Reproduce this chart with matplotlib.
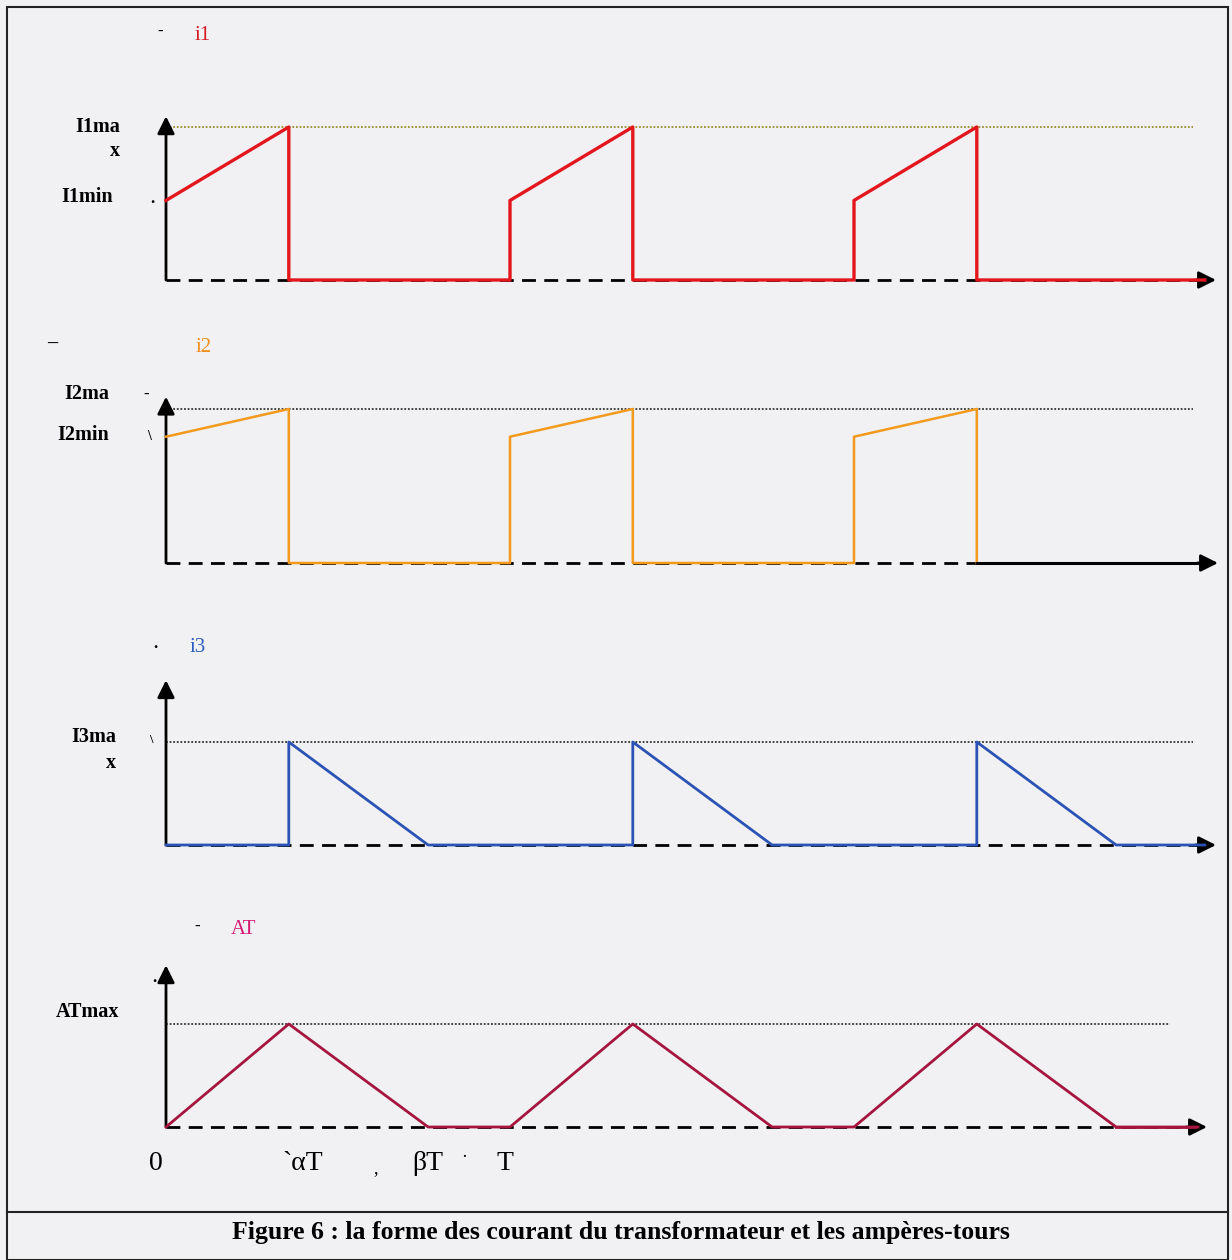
import matplotlib
matplotlib.use("Agg")
import matplotlib.pyplot as plt
from matplotlib.patches import Rectangle

# --- data (time in units of T, values relative to each max) ---
i1_t = [0, 0.357, 0.357, 1.0, 1.0, 1.357, 1.357, 2.0, 2.0, 2.357, 2.357, 3.02]
i1_v = [0.52, 1, 0, 0, 0.52, 1, 0, 0, 0.52, 1, 0, 0]

i2_t = [0, 0.357, 0.357, 1.0, 1.0, 1.357, 1.357, 2.0, 2.0, 2.357, 2.357]
i2_v = [0.82, 1, 0, 0, 0.82, 1, 0, 0, 0.82, 1, 0]

i3_t = [0, 0.357, 0.357, 0.762, 1.357, 1.357, 1.762, 2.357, 2.357, 2.762, 3.02]
i3_v = [0, 0, 1, 0, 0, 1, 0, 0, 1, 0, 0]

at_t = [0, 0.357, 0.762, 1.0, 1.357, 1.762, 2.0, 2.357, 2.762, 3.0]
at_v = [0, 1, 0, 0, 1, 0, 0, 1, 0, 0]

time_ticks = [0, 0.357, 0.762, 1.0]
time_labels = ["0", "`\u03b1T", "\u03b2T", "T"]

caption = "Figure 6 : la forme des courant du transformateur et les amp\u00e8res-tours"

W, H = 1232, 1260
X0, TPX = 166, 344          # pixel of t=0, pixels per period
SERIF = "Liberation Serif"
BG = "#f1f1f3"

fig = plt.figure(figsize=(W / 100, H / 100), dpi=100)
fig.patch.set_facecolor(BG)


def make_axes(band_top, band_bot, base_px, max_px):
    ax = fig.add_axes([0, 1 - band_bot / H, 1, (band_bot - band_top) / H])
    ax.set_xlim(-X0 / TPX, (W - X0) / TPX)
    sc = base_px - max_px
    ax.set_ylim((base_px - band_bot) / sc, (base_px - band_top) / sc)
    ax.axis("off")
    ax.patch.set_alpha(0)
    return ax


def px_x(p):
    return (p - X0) / TPX


def axes_frame(ax, ytop, xend, dot_end, dot_col="#333333"):
    # dashed baseline + arrow head
    ax.plot([0, xend - 0.05], [0, 0], color="black", lw=2.0,
            dashes=(5, 3), solid_capstyle="butt", zorder=2)
    ax.annotate("", xy=(xend, 0), xytext=(xend - 0.06, 0),
                arrowprops=dict(arrowstyle="-|>", color="black", lw=2,
                                mutation_scale=26, shrinkA=0, shrinkB=0))
    # vertical axis
    ax.annotate("", xy=(0, ytop), xytext=(0, 0),
                arrowprops=dict(arrowstyle="-|>", color="black", lw=2,
                                mutation_scale=26, shrinkA=0, shrinkB=0))
    # dotted max level
    ax.plot([0, dot_end], [1, 1], color=dot_col, lw=1.3, ls=(0, (1, 1)), zorder=1)


def lab(ax, x, y, s, **kw):
    kw.setdefault("family", SERIF)
    kw.setdefault("fontsize", 14.5)
    kw.setdefault("fontweight", "bold")
    ax.text(px_x(x), y, s, **kw)


# ---- panel 1 : i1 ----
ax1 = make_axes(0, 310, 280, 127)
axes_frame(ax1, 1.07, px_x(1216), px_x(1193), dot_col="#9a8c2c")
ax1.plot(i1_t, i1_v, color="#e3161d", lw=2.4, zorder=3)
lab(ax1, 120, 1.0, "I1ma", ha="right", va="center")
lab(ax1, 120, 0.84, "x", ha="right", va="center")
lab(ax1, 113, 0.54, "I1min", ha="right", va="center")
lab(ax1, 152, 0.53, ".", ha="center", va="center", fontsize=12)
lab(ax1, 195, 1.6, "i1", ha="left", va="center", color="#d41a22",
    fontweight="normal", fontsize=15)
lab(ax1, 160, 1.62, "-", ha="center", va="center", fontsize=12)

# ---- panel 2 : i2 ----
ax2 = make_axes(310, 600, 563, 409)
axes_frame(ax2, 1.08, px_x(1218), px_x(1193))
ax2.plot(i2_t, i2_v, color="#f39a1c", lw=1.8, zorder=3)
ax2.plot([i2_t[-1], px_x(1200)], [0, 0], color="black", lw=2.2, zorder=3)
lab(ax2, 109, 1.1, "I2ma", ha="right", va="center")
lab(ax2, 109, 0.83, "I2min", ha="right", va="center")
lab(ax2, 146, 1.09, "-", ha="center", va="center", fontsize=12)
lab(ax2, 149, 0.82, "\\", ha="center", va="center", fontsize=10)
lab(ax2, 196, 1.4, "i2", ha="left", va="center", color="#ee8f1a",
    fontweight="normal", fontsize=15)
lab(ax2, 52, 1.42, "\u2013", ha="center", va="center")

# ---- panel 3 : i3 ----
ax3 = make_axes(600, 880, 845, 742)
axes_frame(ax3, 1.6, px_x(1216), px_x(1193))
ax3.plot(i3_t, i3_v, color="#2a53b5", lw=2.0, zorder=3)
lab(ax3, 116, 1.05, "I3ma", ha="right", va="center")
lab(ax3, 116, 0.8, "x", ha="right", va="center")
lab(ax3, 151, 1.02, "\\", ha="center", va="center", fontsize=9)
lab(ax3, 190, 1.92, "i3", ha="left", va="center", color="#2c5cc0",
    fontweight="normal", fontsize=15)
lab(ax3, 155, 1.95, ".", ha="center", va="center", fontsize=12)

# ---- panel 4 : AT ----
ax4 = make_axes(880, 1200, 1127, 1024)
axes_frame(ax4, 1.57, px_x(1207), px_x(1170))
ax4.plot(at_t, at_v, color="#a5153f", lw=2.0, zorder=3)
ax4.plot([at_t[-2], px_x(1195)], [0, 0], color="#a5153f", lw=2.0, zorder=3)
lab(ax4, 119, 1.12, "ATmax", ha="right", va="center")
lab(ax4, 154, 1.45, ".", ha="center", va="center", fontsize=12)
lab(ax4, 231, 1.92, "AT", ha="left", va="center", color="#d41c74",
    fontweight="normal", fontsize=15)
lab(ax4, 197, 1.94, "-", ha="center", va="center", fontsize=12)

# time labels under the last panel
offsets = [-0.03, 0.04, 0.0, -0.015]
for t, s, off in zip(time_ticks, time_labels, offsets):
    ax4.text(t + off, -0.35, s, family=SERIF, fontsize=20,
             ha="center", va="center")
ax4.text(px_x(376), -0.4, ",", family=SERIF, fontsize=13, ha="center", va="center")
ax4.text(px_x(464), -0.3, "\u00b7", family=SERIF, fontsize=13, ha="center", va="center")

# frame and caption
fig.add_artist(Rectangle((7 / W, 0), (1228 - 7) / W, 1 - 7 / H,
                         transform=fig.transFigure, fill=False,
                         ec="#222222", lw=1.5))
fig.add_artist(plt.Line2D([7 / W, 1228 / W], [1 - 1212 / H, 1 - 1212 / H],
                          transform=fig.transFigure, color="#222222", lw=1.5))
fig.text(621 / W, 1 - 1232 / H, caption, family=SERIF, fontsize=18.5,
         fontweight="bold", ha="center", va="center")

fig.savefig("out.png", dpi=100, facecolor=BG)
